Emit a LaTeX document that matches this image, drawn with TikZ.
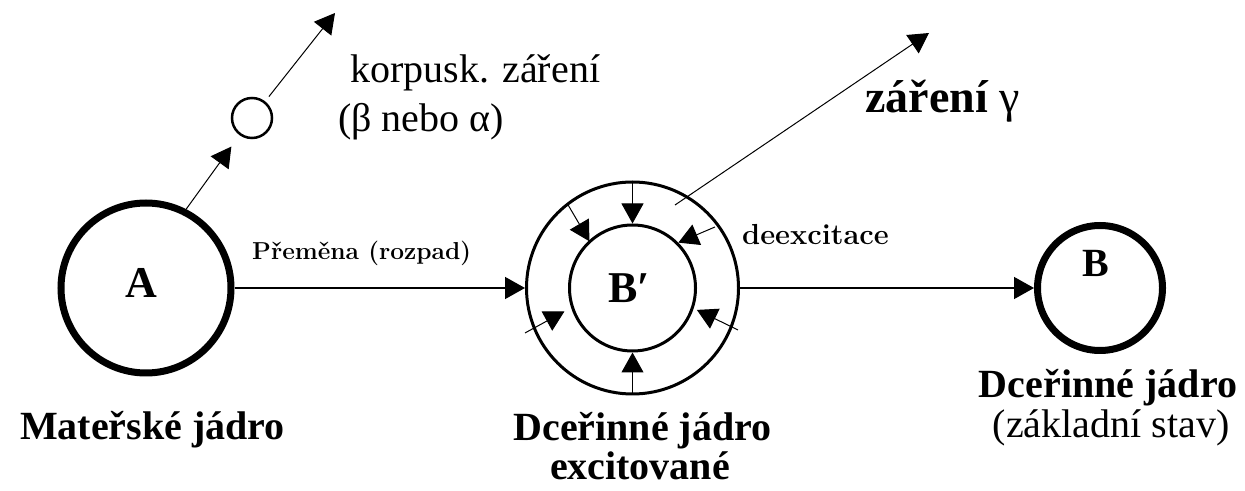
\documentclass[tikz,border=0pt]{standalone}
\usepackage{fontspec}
\newfontfamily\tnr{Liberation Serif}
\usetikzlibrary{arrows.meta,calc}
\begin{document}
\begin{tikzpicture}[x=1pt,y=1pt,
  arr/.style={-{Triangle[length=20pt,width=22pt]}, line width=1pt},
  harr/.style={-{Triangle[length=20pt,width=22pt]}, line width=1.5pt},
  nucl/.style={circle, draw, line width=7pt, inner sep=0pt},
  ring/.style={circle, draw, line width=3pt, inner sep=0pt},
  tms/.style={font=\tnr\fontsize{40}{44}\selectfont, inner sep=0pt},
  tmsb/.style={font=\tnr\bfseries\fontsize{40}{44}\selectfont, inner sep=0pt},
  big/.style={font=\tnr\bfseries\fontsize{44}{48}\selectfont, inner sep=0pt},
  lmb/.style={font=\bfseries\fontsize{#1}{#1}\selectfont, inner sep=0pt}
]
\useasboundingbox (0,0) rectangle (1245,490);

% nuclei
\node[nucl, minimum size=170pt] (A) at (146,202) {};
\node[ring, minimum size=212pt] (Bp) at (632.5,202) {};
\node[ring, minimum size=126pt] (Bpi) at (632.5,202) {};
\node[nucl, minimum size=125pt] (B) at (1100,202) {};
\node[circle, draw, line width=2.5pt, inner sep=0pt, minimum size=40pt] (p) at (252,372) {};

% nucleus labels
\node[big, anchor=base] (lA) at (141,192.4) {A};
\node[big, anchor=base] (lBp) at (629,187.4) {B′};
\node[big, font=\tnr\bfseries\fontsize{40}{44}\selectfont, anchor=base] (lB) at (1096,213.3) {B};

% main transitions
\draw[harr] (A) -- (Bp);
\draw[harr] (Bp) -- (B);

% emitted particle
\coordinate (pe) at (335,477);
\draw[arr, shorten >=14pt] (A.63) -- (p);
\draw[arr, shorten <=6pt] (p) -- (pe);

% gamma ray
\coordinate (gs) at (675,285);
\coordinate (ge) at (929,457);
\draw[arr] (gs) -- (ge);

% de-excitation arrows inside the ring
\foreach \a/\ra/\b/\rb [count=\i] in {90/106/90/64.5, 127.8/105/132.7/63.5, 36.5/102.6/44.7/64.5, 202.7/116.5/199/72, -21.7/113.5/-18.8/68, 270/106/270/64.5}{
  \coordinate (s\i) at ($(Bp)+(\a:\ra)$);
  \coordinate (t\i) at ($(Bp)+(\b:\rb)$);
  \draw[arr] (s\i) -- (t\i);
}

% texts
\node[tms, anchor=base west] (kor) at (350,407) {korpusk. záření};
\node[tms, anchor=base west] (bna) at (338,358) {(β nebo α)};
\node[tmsb, font=\tnr\bfseries\fontsize{46}{50}\selectfont, anchor=base west] (gam) at (865,377) {záření {\mdseries γ}};
\node[lmb=24.5, anchor=base west] (prem) at (252,230) {Přeměna (rozpad)};
\node[lmb=29, anchor=base west] (deex) at (742,245) {deexcitace};

\node[tmsb, anchor=base] (mat) at (152.5,50) {Mateřské jádro};
\node[tmsb, anchor=base] (dc1) at (642.5,49) {Dceřinné jádro};
\node[tmsb, anchor=base] (exc) at (640,11) {excitované};
\node[tmsb, anchor=base] (dc2) at (1108,92) {Dceřinné jádro};
\node[tms, anchor=base] (zak) at (1111,52) {(základní stav)};
\end{tikzpicture}
\end{document}
